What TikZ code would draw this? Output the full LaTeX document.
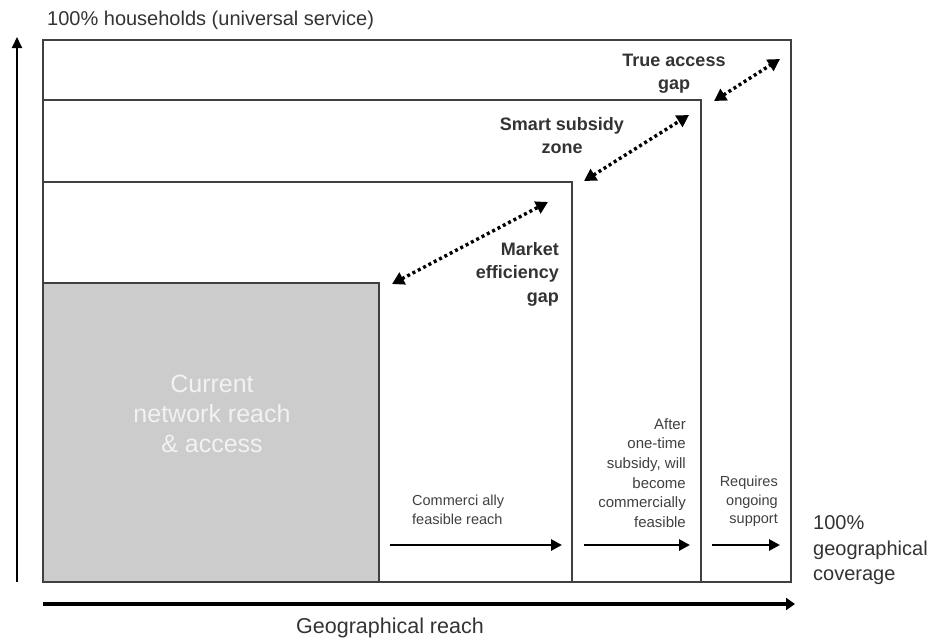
\documentclass[tikz,border=0pt]{standalone}
\usepackage{fontspec}
\setmainfont{Liberation Sans}
\usetikzlibrary{arrows.meta}
\begin{document}
\begin{tikzpicture}[x=1pt,y=-1pt,
  frame/.style={draw=black!75,line width=1.3pt},
  gapline/.style={line width=3.4pt,dash pattern=on 3pt off 3pt,{Triangle[length=12pt,width=13pt]}-{Triangle[length=12pt,width=13pt]}},
  flowarrow/.style={line width=2.8pt,-{Triangle[length=11pt,width=11pt]}},
  lbl/.style={text=black!80,inner sep=0pt,font=\fontsize{18}{23.5}\selectfont\bfseries},
  small/.style={text=black!75,inner sep=0pt,font=\fontsize{15}{19.7}\selectfont,align=right},
  axislbl/.style={text=black!80,inner sep=0pt,font=\fontsize{20}{26}\selectfont}]
\useasboundingbox (0,0) rectangle (929,638);
% rectangles
\draw[frame] (43,40) rectangle (791,582);
\draw[frame] (43,100) rectangle (701,582);
\draw[frame] (43,182) rectangle (572,582);
\draw[frame,fill=black!20] (43,283) rectangle (379,582);
\node[text=black!5,align=center,inner sep=0pt,font=\fontsize{25}{30}\selectfont] (cur) at (212,414) {Current\\network reach\\\& access};
% axes
\coordinate (yb) at (17,582);
\coordinate (yt) at (17,37);
\draw[line width=2pt,-{Triangle[length=11pt,width=10pt]}] (yb) -- (yt);
\coordinate (xl) at (43,604);
\coordinate (xr) at (795,604);
\draw[line width=4pt,-{Triangle[length=9pt,width=12pt]}] (xl) -- (xr);
\node[axislbl,anchor=base west] (top) at (47,25) {100\% households (universal service)};
\node[axislbl,anchor=base,font=\fontsize{21.5}{26}\selectfont] (gr) at (390,633) {Geographical reach};
\node[axislbl,anchor=base west] (cov) at (813,529) {100\%};
\node[axislbl,anchor=base west] (cov2) at (813,555) {geographical};
\node[axislbl,anchor=base west] (cov3) at (813,580) {coverage};
% gap arrows
\coordinate (m1) at (392,284);
\coordinate (m2) at (548,202);
\draw[gapline] (m1) -- (m2);
\coordinate (s1) at (584,181);
\coordinate (s2) at (689,115);
\draw[gapline] (s1) -- (s2);
\coordinate (t1) at (714,101);
\coordinate (t2) at (780,59);
\draw[gapline] (t1) -- (t2);
% gap labels
\node[lbl,align=right,anchor=north east] (mkt) at (559,242) {Market\\efficiency\\gap};
\node[lbl,align=center,anchor=north] (ssz) at (562,117) {Smart subsidy\\zone};
\node[lbl,align=center,anchor=north,font=\fontsize{18}{22.5}\selectfont\bfseries] (tag) at (674,54) {True access\\gap};
% bottom flow arrows
\coordinate (a1) at (390,545);
\coordinate (a2) at (562,545);
\draw[flowarrow] (a1) -- (a2);
\coordinate (b1) at (584,545);
\coordinate (b2) at (690,545);
\draw[flowarrow] (b1) -- (b2);
\coordinate (c1) at (712,545);
\coordinate (c2) at (780,545);
\draw[flowarrow] (c1) -- (c2);
\node[small,align=left,anchor=north west,font=\fontsize{14.5}{18.5}\selectfont] (com) at (412,495) {Commerci ally\\feasible reach};
\node[small,anchor=north east] (aft) at (686,418) {After\\one-time\\subsidy, will\\become\\commercially\\feasible};
\node[small,anchor=north east,font=\fontsize{14.5}{18.5}\selectfont] (req) at (778,476) {Requires\\ongoing\\support};
\end{tikzpicture}
\end{document}
